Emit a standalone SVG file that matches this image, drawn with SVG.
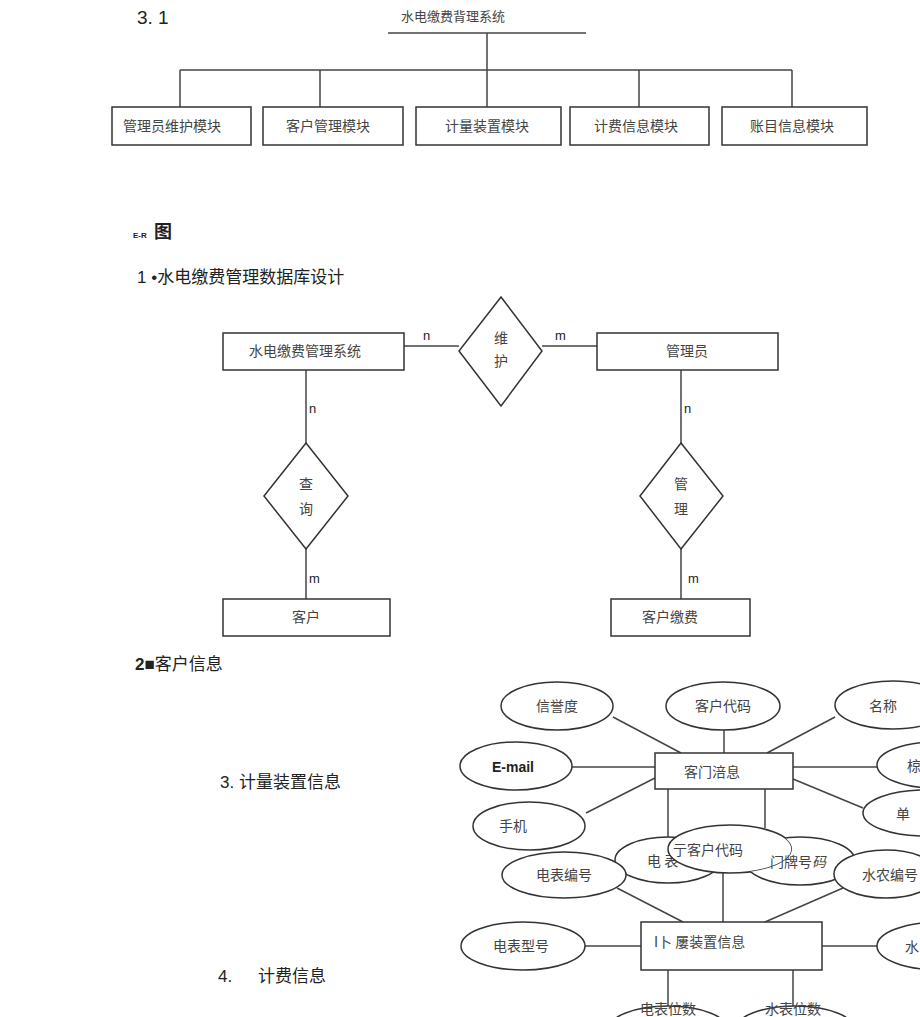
<svg xmlns="http://www.w3.org/2000/svg" width="920" height="1017" viewBox="0 0 920 1017">
<style>
.bg{fill:#fff}
.box{fill:#fff;stroke:#333;stroke-width:1.5}
.ln{stroke:#444;stroke-width:1.5;fill:none}
.ell{fill:#fff;stroke:#333;stroke-width:1.5}
.cj{font-family:"Noto Sans CJK SC","Liberation Sans",sans-serif;fill:#444;font-size:14px}
.hd{font-family:"Liberation Sans","Noto Sans CJK SC",sans-serif;fill:#222;font-size:17px}
.lb{font-family:"Liberation Sans",sans-serif;fill:#222;font-size:13px}
.mid{text-anchor:middle}
</style>
<defs>
<clipPath id="notk"><path clip-rule="evenodd" d="M0,0H920V1017H0Z M668,849 a62,24 0 1,0 124,0 a62,24 0 1,0 -124,0Z"/></clipPath>
</defs>
<rect class="bg" x="0" y="0" width="920" height="1017"/>

<!-- headings -->
<text class="hd" x="137" y="24" style="font-size:19px">3. 1</text>
<g id="er-title"><text class="hd" x="133" y="238" style="font-size:8px;font-weight:bold">E-R</text><text class="hd" x="154" y="238" style="font-size:18px;font-weight:bold">图</text></g>
<text class="hd" x="137" y="283">1 •水电缴费管理数据库设计</text>
<text class="hd" x="135" y="670"><tspan font-weight="bold">2■</tspan>客户信息</text>
<text class="hd" x="220" y="788">3. 计量装置信息</text>
<text class="hd" x="218" y="982">4.<tspan x="258">计费信息</tspan></text>

<!-- top tree connectors -->
<g id="tree-connectors">
<line class="ln" x1="388" y1="33" x2="586" y2="33"/>
<line class="ln" x1="487" y1="33" x2="487" y2="70"/>
<line class="ln" x1="180" y1="70" x2="792" y2="70"/>
<line class="ln" x1="180" y1="70" x2="180" y2="107"/>
<line class="ln" x1="320" y1="70" x2="320" y2="107"/>
<line class="ln" x1="487" y1="70" x2="487" y2="107"/>
<line class="ln" x1="639" y1="70" x2="639" y2="107"/>
<line class="ln" x1="792" y1="70" x2="792" y2="107"/>
</g>
<g id="root"><text class="cj mid" x="453" y="21" style="font-size:13px">水电缴费背理系统</text></g>
<g id="m1"><rect class="box" x="112" y="107" width="139" height="38"/><text class="cj mid" x="172" y="131">管理员维护模块</text></g>
<g id="m2"><rect class="box" x="263" y="107" width="140" height="38"/><text class="cj mid" x="328" y="131">客户管理模块</text></g>
<g id="m3"><rect class="box" x="416" y="107" width="145" height="38"/><text class="cj mid" x="487" y="131">计量装置模块</text></g>
<g id="m4"><rect class="box" x="570" y="107" width="139" height="38"/><text class="cj mid" x="636" y="131">计费信息模块</text></g>
<g id="m5"><rect class="box" x="722" y="107" width="145" height="38"/><text class="cj mid" x="792" y="131">账目信息模块</text></g>

<!-- ER 1 connectors -->
<g id="er1-connectors">
<line class="ln" x1="404" y1="346" x2="459" y2="346"/>
<line class="ln" x1="542" y1="346" x2="597" y2="346"/>
<line class="ln" x1="306" y1="370" x2="306" y2="443"/>
<line class="ln" x1="681" y1="370" x2="681" y2="443"/>
<line class="ln" x1="306" y1="549" x2="306" y2="599"/>
<line class="ln" x1="681" y1="549" x2="681" y2="599"/>
<text class="lb" x="423" y="340">n</text>
<text class="lb" x="555" y="340">m</text>
<text class="lb" x="309" y="413">n</text>
<text class="lb" x="684" y="413">n</text>
<text class="lb" x="309" y="583">m</text>
<text class="lb" x="688" y="583">m</text>
</g>
<g id="sys"><rect class="box" x="223" y="333" width="181" height="37"/><text class="cj mid" x="305" y="356">水电缴费管理系统</text></g>
<g id="admin"><rect class="box" x="597" y="333" width="181" height="37"/><text class="cj mid" x="687" y="356">管理员</text></g>
<g id="weihu"><polygon class="box" points="501,297 542,351 501,406 459,351"/><text class="cj mid" x="501" y="343">维</text><text class="cj mid" x="501" y="366">护</text></g>
<g id="chaxun"><polygon class="box" points="306,443 348,496 306,549 264,496"/><text class="cj mid" x="306" y="489">查</text><text class="cj mid" x="306" y="514">询</text></g>
<g id="guanli"><polygon class="box" points="681,443 723,496 681,549 640,496"/><text class="cj mid" x="681" y="489">管</text><text class="cj mid" x="681" y="514">理</text></g>
<g id="kehu"><rect class="box" x="223" y="599" width="167" height="37"/><text class="cj mid" x="306" y="622">客户</text></g>
<g id="jiaofei"><rect class="box" x="611" y="599" width="139" height="37"/><text class="cj mid" x="670" y="622">客户缴费</text></g>

<!-- ER 2 connectors -->
<g id="er2-connectors">
<line class="ln" x1="613" y1="717" x2="681" y2="753"/>
<line class="ln" x1="724" y1="729" x2="724" y2="753"/>
<line class="ln" x1="835" y1="717" x2="767" y2="753"/>
<line class="ln" x1="572" y1="767" x2="655" y2="767"/>
<line class="ln" x1="793" y1="767" x2="877" y2="767"/>
<line class="ln" x1="586" y1="813" x2="655" y2="778"/>
<line class="ln" x1="793" y1="779" x2="863" y2="808"/>
<line class="ln" x1="668" y1="789" x2="668" y2="840"/>
<line class="ln" x1="765" y1="789" x2="765" y2="828"/>
<line class="ln" x1="617" y1="888" x2="683" y2="922"/>
<line class="ln" x1="723" y1="873" x2="723" y2="922"/>
<line class="ln" x1="843" y1="888" x2="765" y2="922"/>
<line class="ln" x1="585" y1="946" x2="641" y2="946"/>
<line class="ln" x1="822" y1="946" x2="877" y2="946"/>
<line class="ln" x1="668" y1="970" x2="668" y2="1006"/>
<line class="ln" x1="793" y1="970" x2="793" y2="1006"/>
</g>
<g id="xinyu"><ellipse class="ell" cx="557" cy="706" rx="56" ry="24"/><text class="cj mid" x="557" y="711">信誉度</text></g>
<g id="khdm"><ellipse class="ell" cx="723" cy="706" rx="57" ry="24"/><text class="cj mid" x="723" y="711">客户代码</text></g>
<g id="mingcheng"><ellipse class="ell" cx="893" cy="705" rx="58" ry="24"/><text class="cj" x="869" y="711">名称</text></g>
<g id="email"><ellipse class="ell" cx="516" cy="766" rx="56" ry="24"/><text class="mid" x="513" y="772" font-family="Liberation Sans,sans-serif" font-weight="bold" font-size="14" fill="#222">E-mail</text></g>
<g id="biao"><ellipse class="ell" cx="935" cy="765" rx="58" ry="23"/><text class="cj" x="907" y="771">椋</text></g>
<g id="shouji"><ellipse class="ell" cx="529" cy="826" rx="56" ry="24"/><text class="cj" x="499" y="831">手机</text></g>
<g id="dan"><ellipse class="ell" cx="925" cy="813" rx="62" ry="23"/><text class="cj" x="896" y="819">单</text></g>
<g id="khxx"><rect class="box" x="655" y="753" width="138" height="36"/><text class="cj" x="684" y="777">客门涪息</text></g>
<g id="dianbiao"><ellipse class="ell" cx="668" cy="860" rx="53" ry="23"/><text class="cj" x="647" y="866">电 表</text></g>
<g id="khdm2"><ellipse class="ell" cx="730" cy="849" rx="62" ry="24"/><text class="cj" x="673" y="855">亍客户代码</text></g>
<g id="menpai"><ellipse class="ell" cx="800" cy="861" rx="55" ry="24" clip-path="url(#notk)"/><text class="cj" x="770" y="867" fill="#555">门牌号<tspan font-style="italic">码</tspan></text></g>
<g id="dbbh"><ellipse class="ell" cx="564" cy="875" rx="62" ry="23"/><text class="cj mid" x="564" y="880">电表编号</text></g>
<g id="sybh"><ellipse class="ell" cx="886" cy="874" rx="52" ry="24"/><text class="cj" x="862" y="880">水农编号</text></g>
<g id="jlzz"><rect class="box" x="641" y="922" width="181" height="48"/><text class="cj" x="654" y="947">I卜 屢装置信息</text></g>
<g id="dbxh"><ellipse class="ell" cx="523" cy="946" rx="62" ry="24"/><text class="cj mid" x="521" y="951">电表型号</text></g>
<g id="shui"><ellipse class="ell" cx="940" cy="946" rx="63" ry="24"/><text class="cj" x="905" y="952">水</text></g>
<g id="dbws"><ellipse class="ell" cx="668" cy="1030" rx="60" ry="24"/><text class="cj mid" x="668" y="1014">电表位数</text></g>
<g id="sbws"><ellipse class="ell" cx="795" cy="1030" rx="60" ry="24"/><text class="cj mid" x="793" y="1014">水表位数</text></g>
</svg>
